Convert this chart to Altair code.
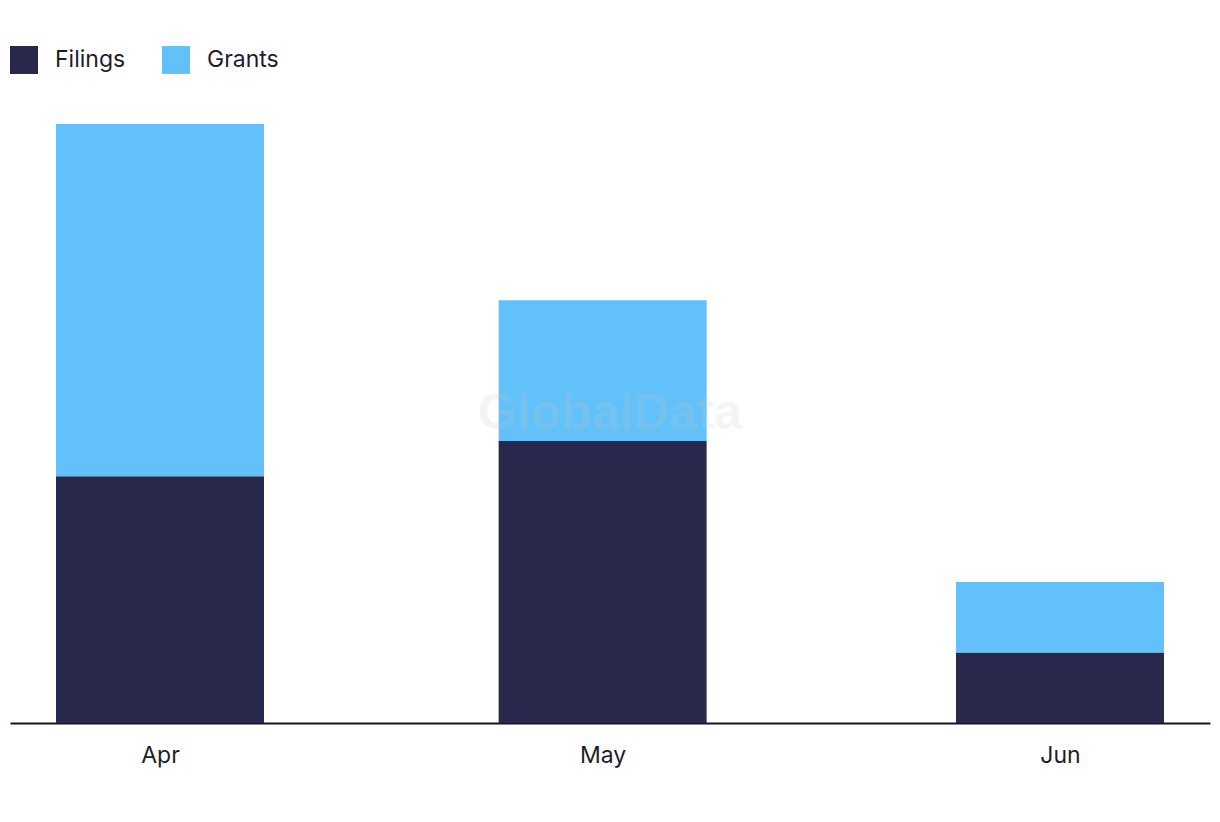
import altair as alt
import pandas as pd

months = ["2024-04-01", "2024-05-01", "2024-06-01"]
month_labels = ["Apr", "May", "Jun"]
series = ["Filings", "Grants"]
filings = [7, 8, 2]
grants = [10, 4, 2]
colors = ["#28284C", "#62C1F8"]

rows = []
for m, f, g in zip(months, filings, grants):
    rows.append({"month": m, "series": "Filings", "value": f, "ord": 0})
    rows.append({"month": m, "series": "Grants", "value": g, "ord": 1})
df = pd.DataFrame(rows)

FONT = "Inter"
TEXT = "#1c1c30"

x_scale = alt.Scale(
    type="utc",
    padding=0,
    domain=[
        alt.DateTime(year=2024, month=3, date=21, hours=20, utc=True),
        alt.DateTime(year=2024, month=6, date=11, hours=4, utc=True),
    ],
)

bars = alt.Chart(df).mark_bar(size=208).encode(
    x=alt.X(
        "month:T",
        scale=x_scale,
        axis=alt.Axis(
            title=None,
            values=[alt.DateTime(year=2024, month=i + 4, date=1, utc=True) for i in range(3)],
            labelExpr="utcFormat(datum.value, '%b')",
            ticks=False,
            grid=False,
            domainColor="#15152a",
            domainWidth=2,
            labelFont=FONT,
            labelFontSize=23,
            labelColor=TEXT,
            labelPadding=21,
            labelFlush=False,
        ),
    ),
    y=alt.Y(
        "value:Q",
        stack="zero",
        scale=alt.Scale(domain=[0, 17], nice=False, zero=True),
        axis=None,
    ),
    color=alt.Color(
        "series:N",
        scale=alt.Scale(domain=series, range=colors),
        legend=alt.Legend(
            title=None,
            orient="none",
            legendX=0,
            legendY=-78,
            direction="horizontal",
            symbolType="square",
            symbolSize=784,
            symbolStrokeWidth=0,
            symbolOpacity=1,
            labelFont=FONT,
            labelFontSize=23,
            labelColor=TEXT,
            labelOffset=17,
            columnPadding=36,
        ),
    ),
    order=alt.Order("ord:Q", sort="ascending"),
)

watermark = alt.Chart(pd.DataFrame({"t": ["GlobalData"]})).mark_text(
    font="Liberation Sans",
    fontWeight="bold",
    fontSize=50,
    color="#c8c8c8",
    opacity=0.18,
    align="center",
    baseline="middle",
).encode(
    text="t:N",
    x=alt.value(600),
    y=alt.value(290),
)

chart = (
    alt.layer(bars, watermark)
    .properties(
        width=1200,
        height=599,
        background="white",
        autosize=alt.AutoSizeParams(type="none"),
        padding={"left": 2, "top": 116, "right": 2, "bottom": 80},
    )
    .configure_view(strokeWidth=0, stroke="transparent")
)

chart.save("out.html", embed_options={"renderer": "svg", "actions": False})
